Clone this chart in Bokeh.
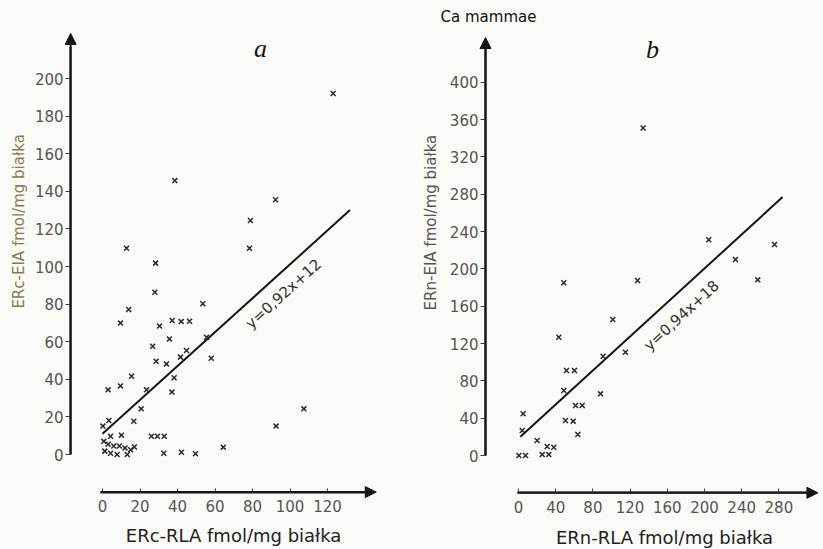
import math
from bokeh.plotting import figure
from bokeh.layouts import row
from bokeh.models import Range1d, FixedTicker, Label, Arrow, NormalHead
from bokeh.embed import file_html
from bokeh.resources import INLINE

# ---------------- data: panel a (ERc) ----------------
a_x = [123, 38.6, 12.8, 28.3, 92.3, 78.9, 78.4, 27.9, 53.5, 14.0, 9.6, 37.2, 42.0, 46.4,
       30.4, 35.7, 55.5, 26.8, 58.0, 44.8, 41.6, 28.6, 34.1, 15.5, 38.2, 9.6, 3.0, 23.5,
       37.0, 20.6, 16.7, 3.4, 0.2, 4.3, 10.1, 26.1, 29.3, 32.9, 0.7, 3.0, 6.0, 9.0, 12.0,
       15.0, 17.0, 1.2, 4.3, 7.8, 13.2, 32.7, 42.1, 49.6, 64.4, 107.4, 92.6]
a_y = [192, 145.7, 109.7, 101.8, 135.5, 124.5, 109.7, 86.3, 80.2, 77.1, 69.9, 71.3, 70.7, 70.9,
       68.3, 61.5, 62.4, 57.6, 51.2, 55.3, 51.8, 49.6, 48.2, 41.6, 40.8, 36.5, 34.4, 34.4,
       33.2, 24.3, 17.7, 18.1, 15.1, 9.7, 10.3, 9.7, 9.7, 9.7, 7.0, 5.5, 4.5, 4.5, 3.5,
       2.5, 4.0, 1.8, 0.7, 0.0, 0.0, 0.7, 1.2, 0.4, 3.9, 24.3, 15.1]
fit_a_x = [0, 132]
fit_a_y = [11, 130]
a_xticks = [0, 20, 40, 60, 80, 100, 120]
a_yticks = [0, 20, 40, 60, 80, 100, 120, 140, 160, 180, 200]

# ---------------- data: panel b (ERn) ----------------
b_x = [134, 204.6, 275.3, 233.3, 257.3, 128, 48.7, 101.4, 43.3, 115, 91, 51.6, 60.2, 48.7,
       88.2, 61.3, 68.5, 5, 50.5, 58.8, 4, 63.8, 20.1, 30.8, 38, 0.4, 7.5, 25.5, 32.6]
b_y = [351, 231.2, 226.2, 210, 188.3, 187.6, 185.1, 145.8, 126.8, 110.7, 106.4, 91.1, 91.1, 69.7,
       66.1, 53.6, 53.6, 44.7, 37.5, 36.8, 26.8, 22.5, 16.1, 9.6, 8.9, 0, 0, 1, 1]
fit_b_x = [2, 284]
fit_b_y = [20, 277]
b_xticks = [0, 40, 80, 120, 160, 200, 240, 280]
b_yticks = [0, 40, 80, 120, 160, 200, 240, 280, 320, 360, 400]

BG = "#fafaf6"
INK = "#151515"
FONT = "DejaVu Sans"


def base_fig(fw, fh, xr, yr):
    p = figure(frame_width=fw, frame_height=fh, x_range=Range1d(*xr), y_range=Range1d(*yr),
               output_backend="svg", toolbar_location=None,
               min_border_left=0, min_border_right=0, min_border_top=0, min_border_bottom=0)
    p.background_fill_color = BG
    p.border_fill_color = BG
    p.outline_line_color = None
    p.grid.visible = False
    return p


def style_axes(p, xloc, yloc, xb, yb, xt, yt):
    xa = p.xaxis[0]
    xa.fixed_location = xloc
    xa.bounds = xb
    xa.ticker = FixedTicker(ticks=xt)
    ya = p.yaxis[0]
    ya.fixed_location = yloc
    ya.bounds = yb
    ya.ticker = FixedTicker(ticks=yt)
    for ax in (xa, ya):
        ax.axis_line_width = 2
        ax.axis_line_color = INK
        ax.minor_tick_line_color = None
        ax.major_tick_line_color = "#444"
        ax.major_label_text_font = FONT
        ax.major_label_text_font_size = "15px"
        ax.major_label_text_color = "#555"
    xa.major_tick_in = 4
    xa.major_tick_out = 0
    xa.major_label_standoff = 8
    ya.major_tick_in = 0
    ya.major_tick_out = 5
    ya.major_label_standoff = 2


def arrow(p, x0, y0, x1, y1):
    p.add_layout(Arrow(end=NormalHead(size=11, fill_color=INK, line_color=INK, line_width=1),
                       x_start=x0, y_start=y0, x_end=x1, y_end=y1,
                       line_width=2, line_color=INK))


def lab(p, x, y, text, size="15px", color=INK, angle=0.0, style="normal", font=FONT):
    p.add_layout(Label(x=x, y=y, text=text, text_align="center", text_baseline="middle",
                       angle=angle, text_font=font, text_font_size=size,
                       text_color=color, text_font_style=style))


# ---------------- panel a ----------------
pa = base_fig(420, 549, (-54.4, 169.6), (-50.53, 241.5))
style_axes(pa, -20, -17, (-1, 140), (0, 217), a_xticks, a_yticks)
arrow(pa, -1, -20, 146, -20)
arrow(pa, -17, 0, -17, 224)
pa.line(fit_a_x, fit_a_y, line_color=INK, line_width=2)
pa.scatter(a_x, a_y, marker="x", size=7, line_color="#2a2a2a", line_width=1.5)
lab(pa, 84.3, 216, "a", size="26px", style="italic", font="Liberation Serif")
lab(pa, -44.8, 124, "ERc-EIA fmol/mg białka", size="15px", color="#8a7a52", angle=math.pi / 2)
lab(pa, 69.9, -43.1, "ERc-RLA fmol/mg białka", size="18px", color="#222")
lab(pa, 96.5, 85.5, "y=0,92x+12", size="15px", color="#333", angle=math.radians(42))

# ---------------- panel b ----------------
pb = base_fig(403, 549, (-105.4, 328.0), (-100.75, 487.7))
style_axes(pb, -40, -35.5, (-1, 310), (0, 440), b_xticks, b_yticks)
arrow(pb, -1, -40, 322, -40)
arrow(pb, -35.5, 0, -35.5, 448)
pb.line(fit_b_x, fit_b_y, line_color=INK, line_width=2)
pb.scatter(b_x, b_y, marker="x", size=7, line_color="#2a2a2a", line_width=1.5)
lab(pb, 144, 435, "b", size="26px", style="italic", font="Liberation Serif")
lab(pb, -32.3, 469.5, "Ca mammae", size="15px", color="#111")
lab(pb, -94.6, 249.7, "ERn-EIA fmol/mg białka", size="15px", color="#555", angle=math.pi / 2)
lab(pb, 157, -87.9, "ERn-RLA fmol/mg białka", size="18px", color="#222")
lab(pb, 175.3, 150, "y=0,94x+18", size="15px", color="#333", angle=math.radians(42.5))

layout = row(pa, pb)
open("out.html", "w").write(file_html(layout, INLINE))
